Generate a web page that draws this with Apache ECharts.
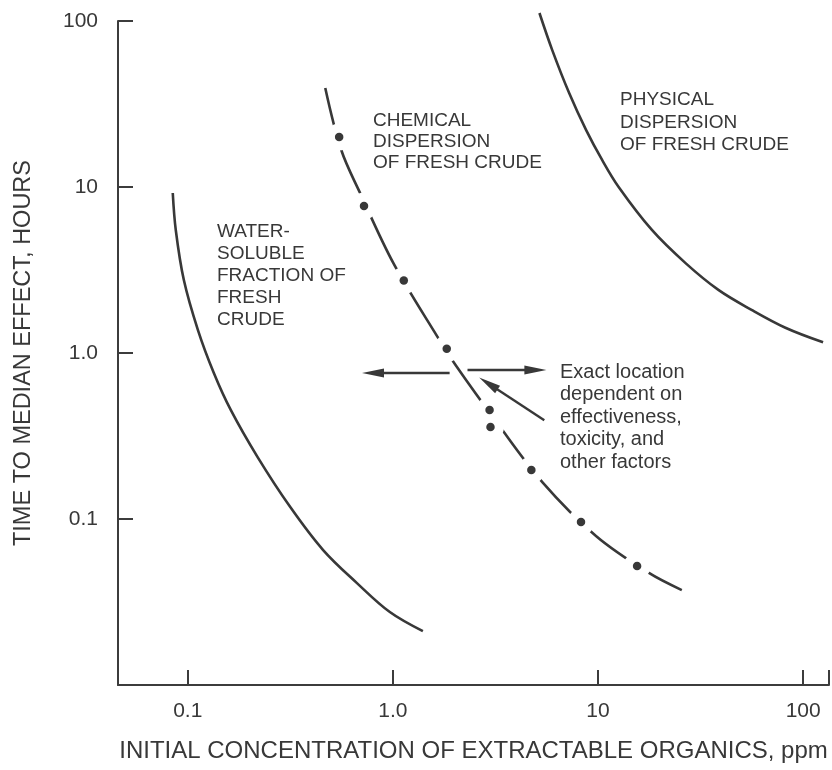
<!DOCTYPE html>
<html>
<head>
<meta charset="utf-8">
<script src="https://cdn.jsdelivr.net/npm/echarts@6/dist/echarts.min.js"></script>
<style>
html,body{margin:0;padding:0;background:#fff;}
#chart{width:832px;height:770px;}
</style>
</head>
<body>
<div id="chart"></div>
<script>
// ---- data ----
const xTickLabels = {"0.1": "0.1", "1": "1.0", "10": "10", "100": "100"};
const yTickLabels = {"0.1": "0.1", "1": "1.0", "10": "10", "100": "100"};

// Water-soluble fraction of fresh crude (solid curve)
const waterX = [0.0845, 0.0874, 0.0957, 0.112, 0.134, 0.162, 0.219, 0.316, 0.457, 0.668, 0.966, 1.40];
const waterY = [9.2, 5.51, 2.75, 1.38, 0.758, 0.454, 0.236, 0.118, 0.065, 0.0411, 0.0275, 0.0211];

// Chemical dispersion of fresh crude (broken curve)
const chemCurveX = [0.468, 0.560, 0.692, 1.01, 1.65, 2.02, 3.20, 5.35, 9.77, 17.7, 25.6];
const chemCurveY = [39.5, 16.7, 9.2, 3.44, 1.25, 0.847, 0.384, 0.167, 0.0791, 0.0473, 0.0373];
// Chemical dispersion data points (dots)
const chemDotX = [0.547, 0.723, 1.13, 1.83, 2.96, 2.99, 4.73, 8.26, 15.5];
const chemDotY = [20.0, 7.69, 2.73, 1.06, 0.454, 0.358, 0.197, 0.096, 0.0521];

// Physical dispersion of fresh crude (solid curve)
const physX = [5.18, 5.98, 7.23, 8.75, 10.45, 12.6, 18.3, 26.7, 38.6, 56.0, 81.9, 125];
const physY = [111.7, 66.8, 36.8, 22.0, 14.6, 10.0, 5.51, 3.48, 2.40, 1.82, 1.42, 1.16];

// Annotation arrows: [fromX, fromY, toX, toY]
const arrowLeft = [1.89, 0.758, 0.80, 0.758];
const arrowRight = [2.31, 0.79, 4.95, 0.79];
const arrowDiag = [5.47, 0.394, 2.92, 0.655];

const zip = (xs, ys) => xs.map((x, i) => [x, ys[i]]);

const INK = '#383838';
const FONT = '"Liberation Sans", Arial, Helvetica, sans-serif';

function isPow10(v) {
  const l = Math.log10(v);
  return Math.abs(l - Math.round(l)) < 1e-6;
}
function labelFor(map) {
  return function (v) {
    if (!isPow10(v)) return '';
    const key = String(Math.pow(10, Math.round(Math.log10(v))));
    return map[key] !== undefined ? map[key] : '';
  };
}

const chart = echarts.init(document.getElementById('chart'), null, {renderer: 'canvas'});

const arrowLine = (a) => [{coord: [a[0], a[1]]}, {coord: [a[2], a[3]]}];

const curveBase = {
  type: 'line',
  smooth: 0.35,
  showSymbol: false,
  clip: false,
  lineStyle: {color: INK, width: 2.6},
  z: 2
};

const option = {
  backgroundColor: '#fff',
  animation: false,
  grid: {left: 118, right: 0, top: 21, bottom: 85, containLabel: false},
  xAxis: {
    type: 'log',
    logBase: 10,
    min: 0.0457,
    max: 133.6,
    name: 'INITIAL CONCENTRATION OF EXTRACTABLE ORGANICS, ppm',
    nameLocation: 'middle',
    nameGap: 54,
    nameTextStyle: {fontFamily: FONT, fontSize: 24, color: INK},
    axisLine: {show: true, lineStyle: {color: '#3c3c3c', width: 2}},
    axisTick: {show: true, inside: true, length: 15, lineStyle: {color: '#3c3c3c', width: 2}},
    axisLabel: {show: true, margin: 16, fontFamily: FONT, fontSize: 21, color: INK,
                formatter: labelFor(xTickLabels), showMinLabel: true, showMaxLabel: true},
    splitLine: {show: false},
    minorTick: {show: false}
  },
  yAxis: {
    type: 'log',
    logBase: 10,
    min: 0.01,
    max: 100,
    name: 'TIME TO MEDIAN EFFECT, HOURS',
    nameLocation: 'middle',
    nameRotate: 90,
    nameGap: 82,
    nameTextStyle: {fontFamily: FONT, fontSize: 23.5, color: INK},
    axisLine: {show: true, lineStyle: {color: '#3c3c3c', width: 2}},
    axisTick: {show: true, inside: true, length: 15, lineStyle: {color: '#3c3c3c', width: 2}},
    axisLabel: {show: true, margin: 20, fontFamily: FONT, fontSize: 21, color: INK,
                formatter: labelFor(yTickLabels)},
    splitLine: {show: false}
  },
  series: [
    Object.assign({}, curveBase, {name: 'Water-soluble fraction', data: zip(waterX, waterY)}),
    Object.assign({}, curveBase, {name: 'Physical dispersion', data: zip(physX, physY)}),
    Object.assign({}, curveBase, {name: 'Chemical dispersion curve', data: zip(chemCurveX, chemCurveY)}),
    {
      name: 'Chemical dispersion gaps',
      type: 'scatter',
      data: zip(chemDotX, chemDotY),
      symbol: 'circle',
      symbolSize: 27,
      itemStyle: {color: '#fff', opacity: 1},
      silent: true,
      z: 3
    },
    {
      name: 'Chemical dispersion points',
      type: 'scatter',
      data: zip(chemDotX, chemDotY),
      symbol: 'circle',
      symbolSize: 8.5,
      itemStyle: {color: INK, opacity: 1},
      z: 4
    },
    {
      name: 'Arrows',
      type: 'line',
      data: [],
      z: 5,
      markLine: {
        silent: true,
        symbol: ['none', 'triangle'],
        symbolSize: [9, 22],
        label: {show: false},
        lineStyle: {color: INK, width: 2.4, type: 'solid'},
        data: [arrowLine(arrowLeft), arrowLine(arrowRight), arrowLine(arrowDiag)]
      }
    }
  ],
  graphic: [
    {type: 'text', x: 373, y: 110, z: 10,
     style: {text: 'CHEMICAL\nDISPERSION\nOF FRESH CRUDE', font: '19px ' + FONT, fill: INK, lineHeight: 21, verticalAlign: 'top'}},
    {type: 'text', x: 620, y: 89, z: 10,
     style: {text: 'PHYSICAL\nDISPERSION\nOF FRESH CRUDE', font: '19px ' + FONT, fill: INK, lineHeight: 22.5, verticalAlign: 'top'}},
    {type: 'text', x: 217, y: 221, z: 10,
     style: {text: 'WATER-\nSOLUBLE\nFRACTION OF\nFRESH\nCRUDE', font: '19px ' + FONT, fill: INK, lineHeight: 22, verticalAlign: 'top'}},
    {type: 'text', x: 560, y: 361, z: 10,
     style: {text: 'Exact location\ndependent on\neffectiveness,\ntoxicity, and\nother factors', font: '20px ' + FONT, fill: INK, lineHeight: 22.5, verticalAlign: 'top'}}
  ]
};

chart.setOption(option);
</script>
</body>
</html>
